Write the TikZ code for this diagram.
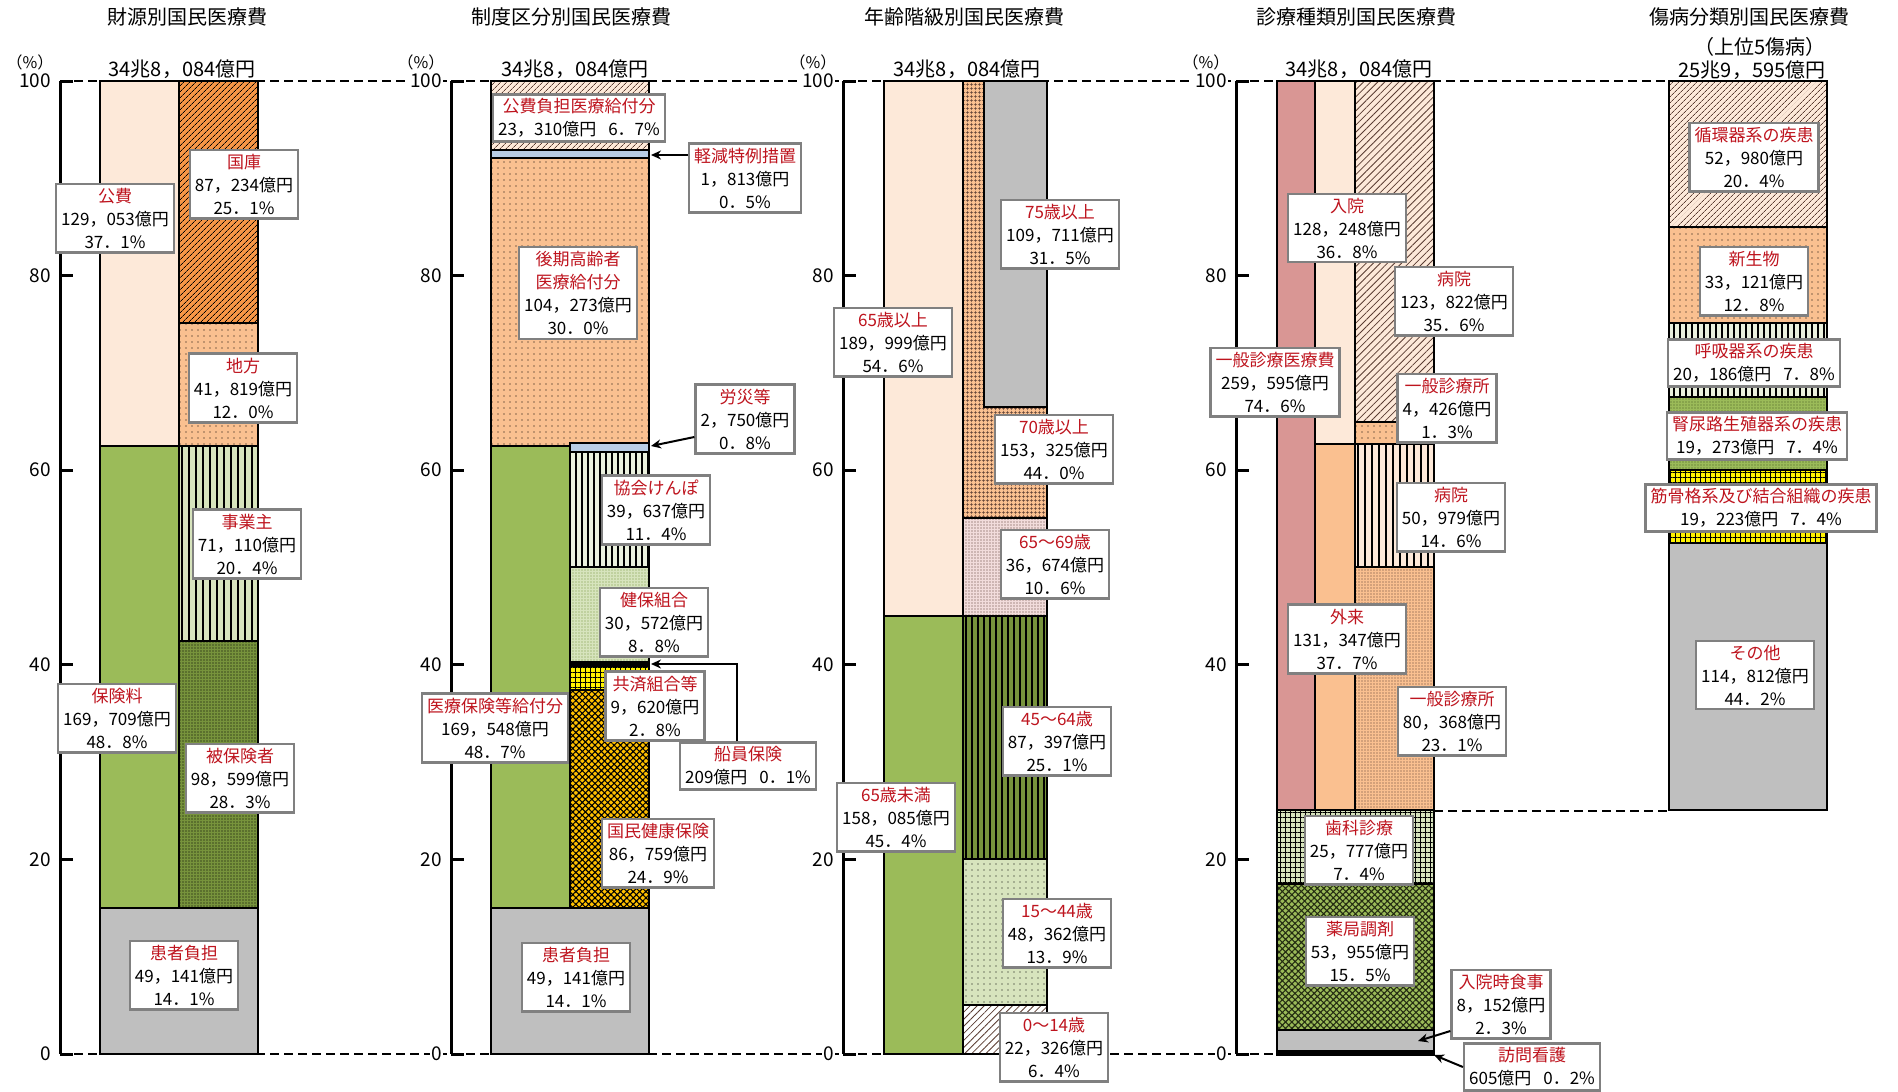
\documentclass[tikz,border=0pt]{standalone}
\usepackage{fontspec}
\newfontfamily\jp{Noto Sans CJK JP}
\usetikzlibrary{patterns,patterns.meta,arrows.meta}
\definecolor{peach}{RGB}{253,233,217}
\definecolor{orng}{RGB}{247,150,70}
\definecolor{lorng}{RGB}{250,192,144}
\definecolor{grn}{RGB}{155,187,89}
\definecolor{lgrn}{RGB}{215,228,189}
\definecolor{dgrn}{RGB}{119,147,60}
\definecolor{lblue}{RGB}{185,205,229}
\definecolor{gry}{RGB}{191,191,191}
\definecolor{pnk}{RGB}{217,150,148}
\definecolor{amber}{RGB}{255,192,0}
\definecolor{pale}{RGB}{235,241,222}
\definecolor{lpink}{RGB}{242,220,219}
\definecolor{brn}{RGB}{90,60,50}
\definecolor{labred}{RGB}{190,20,30}
\definecolor{boxgray}{RGB}{128,128,128}
\newcommand{\rlab}[1]{\textcolor{labred}{#1}}
\begin{document}
\begin{tikzpicture}[x=1pt,y=-1pt,
  seg/.style={draw=black,line width=2.5pt,preaction={fill=#1}},
  hatch/.style={pattern={Lines[angle=45,distance=#1,line width=0.8pt]}},
  vlines/.style={pattern={Lines[angle=90,distance=#1,line width=1.3pt]}},
  dotfill/.style={pattern={Dots[distance=#1,radius=0.6pt]}},
  gridfill/.style={pattern={Hatch[angle=0,distance=#1,line width=0.7pt]}},
  checker/.style={pattern={Hatch[angle=45,distance=4.5pt,line width=1.1pt]}},
  lbl/.style={draw=boxgray,line width=2.5pt,fill=white,align=center,
    inner xsep=5pt,inner ysep=4pt,font=\jp\fontsize{17}{23}\selectfont},
  tick/.style={anchor=east,fill=white,inner sep=1pt,font=\jp\fontsize{19}{19}\selectfont},
  head/.style={font=\jp\fontsize{20}{20}\selectfont},
  dash line/.style={line width=2pt,dash pattern=on 9pt off 5pt},
  arr/.style={line width=2pt,-{Stealth[length=10pt,width=9pt]}}]
\useasboundingbox (0,0) rectangle (1898,1092);
% dashed guide lines at 100, 0 and 25
\draw[dash line] (60,81) -- (1669,81);
\draw[dash line] (60,1054) -- (1277,1054);
\draw[dash line] (1434,811) -- (1669,811);
% axes
\foreach \ax in {60,451,843,1236}{
  \draw[line width=3pt] (\ax,81) -- (\ax,1054);
  \node[font=\jp\fontsize{16}{16}\selectfont] (pc\ax) at (\ax-30,62) {（\%）};
  \foreach \v in {0,20,...,100}{
    \draw[line width=3pt] (\ax,{1054-9.73*\v}) -- ++(13,0);
    \node[tick] (tk\ax-\v) at (\ax-8,{1054-9.73*\v}) {\v};
  }
}
% titles
\node[head] (tit1) at (187,17) {財源別国民医療費};
\node[head] (tit2) at (571,17) {制度区分別国民医療費};
\node[head] (tit3) at (964,17) {年齢階級別国民医療費};
\node[head] (tit4) at (1356,17) {診療種類別国民医療費};
\node[head] (tit5) at (1749,17) {傷病分類別国民医療費};
\node[head] (sub5) at (1760,47) {（上位5傷病）};
\node[head] (tot1) at (182,69) {34兆8，084億円};
\node[head] (tot2) at (575,69) {34兆8，084億円};
\node[head] (tot3) at (967,69) {34兆8，084億円};
\node[head] (tot4) at (1359,69) {34兆8，084億円};
\node[head] (tot5) at (1752,70) {25兆9，595億円};

% chart 1
\path[seg=peach] (100,81) rectangle (179,446);
\path[seg=orng,hatch=4pt] (179,81) rectangle (258,323);
\path[seg=lorng,dotfill=6pt] (179,323) rectangle (258,446);
\path[seg=grn] (100,446) rectangle (179,908);
\path[seg=lgrn,vlines=7pt] (179,446) rectangle (258,641);
\path[seg=dgrn,dotfill=3pt] (179,641) rectangle (258,908);
\path[seg=gry] (100,908) rectangle (258,1054);

% chart 2
\path[seg=peach,hatch=4pt,pattern color=brn] (491,81) rectangle (649,150);
\path[seg=lblue] (491,150) rectangle (649,158);
\path[seg=lorng,dotfill=6pt] (491,158) rectangle (649,446);
\path[seg=grn] (491,446) rectangle (570,908);
\path[seg=pale,vlines=6pt] (570,452) rectangle (649,567);
\path[seg=lgrn,dotfill=3pt,pattern color=dgrn] (570,567) rectangle (649,662);
\path[seg=black] (570,662) rectangle (649,666);
\path[seg=yellow,gridfill=5pt] (570,666) rectangle (649,690);
\path[seg=amber,checker] (570,690) rectangle (649,908);
\path[seg=lblue] (570,443) rectangle (649,452);
\path[seg=gry] (491,908) rectangle (649,1054);

% chart 3
\path[seg=peach] (884,81) rectangle (963,616);
\path[seg=grn] (884,616) rectangle (963,1054);
\path[seg=lorng,gridfill=4pt,pattern color=brn] (963,81) -- (984,81) -- (984,407) -- (1047,407) -- (1047,518) -- (963,518) -- cycle;
\path[seg=gry] (984,81) rectangle (1047,407);
\path[seg=lpink,dotfill=3pt,pattern color=brn] (963,518) rectangle (1047,616);
\path[seg=dgrn,vlines=6pt] (963,616) rectangle (1047,859);
\path[seg=lgrn,dotfill=6pt] (963,859) rectangle (1047,1005);
\path[seg=white,hatch=5pt,pattern color=brn] (963,1005) rectangle (1047,1054);

% chart 4
\path[seg=pnk] (1277,81) rectangle (1315,810);
\path[seg=peach] (1315,81) rectangle (1355,444);
\path[seg=lorng] (1315,444) rectangle (1355,810);
\path[seg=peach,hatch=5pt,pattern color=brn] (1355,81) rectangle (1434,422);
\path[seg=lorng,dotfill=6pt] (1355,422) rectangle (1434,444);
\path[seg=peach,vlines=7pt] (1355,444) rectangle (1434,567);
\path[seg=lorng,dotfill=3pt,pattern color=brn] (1355,567) rectangle (1434,810);
\path[seg=lgrn,gridfill=5pt] (1277,810) rectangle (1434,884);
\path[seg=grn,checker,pattern color=black!70!dgrn] (1277,884) rectangle (1434,1030);
\path[seg=gry] (1277,1030) rectangle (1434,1051);
\path[seg=black] (1277,1051) rectangle (1434,1055);

% chart 5
\path[seg=peach,hatch=4pt,pattern color=brn] (1669,81) rectangle (1827,227);
\path[seg=lorng,dotfill=6pt] (1669,227) rectangle (1827,323);
\path[seg=pale,vlines=6pt] (1669,323) rectangle (1827,397);
\path[seg=grn,dotfill=3pt,pattern color=dgrn!60!black] (1669,397) rectangle (1827,470);
\path[seg=yellow,gridfill=5pt] (1669,470) rectangle (1827,543);
\path[seg=gry] (1669,543) rectangle (1827,810);

% labels chart 1
\node[lbl] (kouhi) at (115,218) {\rlab{公費}\\129，053億円\\37．1\%};
\node[lbl] (kokko) at (244,184) {\rlab{国庫}\\87，234億円\\25．1\%};
\node[lbl] (chihou) at (243,388) {\rlab{地方}\\41，819億円\\12．0\%};
\node[lbl] (jigyou) at (247,544) {\rlab{事業主}\\71，110億円\\20．4\%};
\node[lbl] (hoken) at (117,718) {\rlab{保険料}\\169，709億円\\48．8\%};
\node[lbl] (hihoken) at (240,778) {\rlab{被保険者}\\98，599億円\\28．3\%};
\node[lbl] (kanja1) at (184,975) {\rlab{患者負担}\\49，141億円\\14．1\%};

% labels chart 2
\node[lbl] (kouhifutan) at (579,118) {\rlab{公費負担医療給付分}\\23，310億円\hspace{0.7em}6．7\%};
\node[lbl] (keigen) at (745,178) {\rlab{軽減特例措置}\\1，813億円\\0．5\%};
\node[lbl] (kouki) at (578,293) {\rlab{後期高齢者}\\\rlab{医療給付分}\\104，273億円\\30．0\%};
\node[lbl] (rousai) at (745,419) {\rlab{労災等}\\2，750億円\\0．8\%};
\node[lbl] (kyoukai) at (656,510) {\rlab{協会けんぽ}\\39，637億円\\11．4\%};
\node[lbl] (kenpo) at (654,622) {\rlab{健保組合}\\30，572億円\\8．8\%};
\node[lbl] (kyousai) at (655,706) {\rlab{共済組合等}\\9，620億円\\2．8\%};
\node[lbl] (iryouhoken) at (495,728) {\rlab{医療保険等給付分}\\169，548億円\\48．7\%};
\node[lbl] (senin) at (748,766) {\rlab{船員保険}\\209億円\hspace{0.7em}0．1\%};
\node[lbl] (kokuho) at (658,853) {\rlab{国民健康保険}\\86，759億円\\24．9\%};
\node[lbl] (kanja2) at (576,977) {\rlab{患者負担}\\49，141億円\\14．1\%};
\coordinate (kg) at (651,155);
\coordinate (rs) at (651,446);
\coordinate (sn) at (651,664);
\draw[arr] (keigen.west |- kg) -- (kg);
\draw[arr] ([yshift=-18pt]rousai.west) -- (rs);
\draw[arr] ([xshift=-11pt]senin.north) |- (sn);

% labels chart 3
\node[lbl] (over75) at (1060,234) {\rlab{75歳以上}\\109，711億円\\31．5\%};
\node[lbl] (over65) at (893,342) {\rlab{65歳以上}\\189，999億円\\54．6\%};
\node[lbl] (over70) at (1054,449) {\rlab{70歳以上}\\153，325億円\\44．0\%};
\node[lbl] (age6569) at (1055,564) {\rlab{65～69歳}\\36，674億円\\10．6\%};
\node[lbl] (age4564) at (1057,741) {\rlab{45～64歳}\\87，397億円\\25．1\%};
\node[lbl] (under65) at (896,817) {\rlab{65歳未満}\\158，085億円\\45．4\%};
\node[lbl] (age1544) at (1057,933) {\rlab{15～44歳}\\48，362億円\\13．9\%};
\node[lbl] (age0014) at (1054,1047) {\rlab{0～14歳}\\22，326億円\\6．4\%};

% labels chart 4
\node[lbl] (nyuin) at (1347,228) {\rlab{入院}\\128，248億円\\36．8\%};
\node[lbl] (byouinN) at (1454,301) {\rlab{病院}\\123，822億円\\35．6\%};
\node[lbl] (ippan) at (1275,382) {\rlab{一般診療医療費}\\259，595億円\\74．6\%};
\node[lbl] (shinryoN) at (1447,408) {\rlab{一般診療所}\\4，426億円\\1．3\%};
\node[lbl] (byouinG) at (1451,517) {\rlab{病院}\\50，979億円\\14．6\%};
\node[lbl] (gairai) at (1347,639) {\rlab{外来}\\131，347億円\\37．7\%};
\node[lbl] (shinryoG) at (1452,721) {\rlab{一般診療所}\\80，368億円\\23．1\%};
\node[lbl] (shika) at (1359,850) {\rlab{歯科診療}\\25，777億円\\7．4\%};
\node[lbl] (yakkyoku) at (1360,951) {\rlab{薬局調剤}\\53，955億円\\15．5\%};
\node[lbl] (shokuji) at (1501,1004) {\rlab{入院時食事}\\8，152億円\\2．3\%};
\node[lbl] (houmon) at (1532,1067) {\rlab{訪問看護}\\605億円\hspace{0.7em}0．2\%};
\coordinate (sj) at (1418,1041);
\coordinate (hm) at (1434,1055);
\draw[arr] ([yshift=-27pt]shokuji.west) -- (sj);
\draw[arr] (houmon.west) -- (hm);

% labels chart 5
\node[lbl] (junkan) at (1754,157) {\rlab{循環器系の疾患}\\52，980億円\\20．4\%};
\node[lbl] (shinsei) at (1754,281) {\rlab{新生物}\\33，121億円\\12．8\%};
\node[lbl] (kokyu) at (1754,363) {\rlab{呼吸器系の疾患}\\20，186億円\hspace{0.7em}7．8\%};
\node[lbl] (jinnyo) at (1757,436) {\rlab{腎尿路生殖器系の疾患}\\19，273億円\hspace{0.7em}7．4\%};
\node[lbl] (kinkotsu) at (1761,508) {\rlab{筋骨格系及び結合組織の疾患}\\19，223億円\hspace{0.7em}7．4\%};
\node[lbl] (sonota) at (1755,675) {\rlab{その他}\\114，812億円\\44．2\%};
\end{tikzpicture}
\end{document}
